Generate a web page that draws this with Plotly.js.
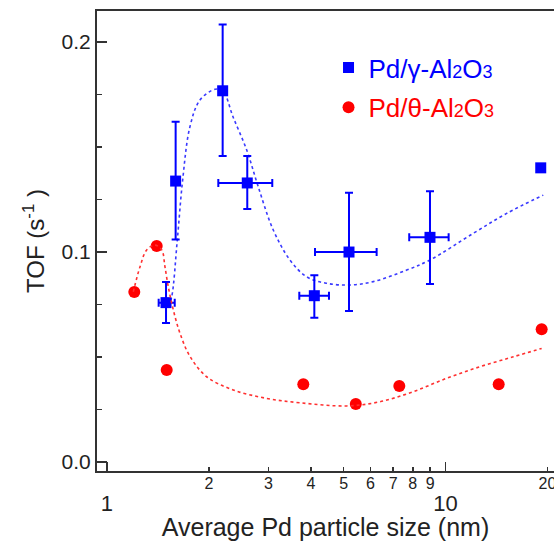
<!DOCTYPE html>
<html>
<head>
<meta charset="utf-8">
<script src="https://cdn.plot.ly/plotly-3.0.1.min.js"></script>
<style>html,body{margin:0;padding:0;background:#fff;}#chart{width:554px;height:541px;}</style>
</head>
<body>
<div id="chart"></div>
<script>
// Pd/gamma-Al2O3 measured points
var gammaX = [1.494, 1.595, 2.196, 2.596, 4.096, 5.185, 8.994, 19.1];
var gammaY = [0.0759, 0.1338, 0.1768, 0.1329, 0.0792, 0.100, 0.107, 0.1401];
var gammaErrYPlus = [0.0098, 0.0282, 0.0316, 0.0128, 0.0098, 0.0282, 0.022, null];
var gammaErrYMinus = [0.0097, 0.0278, 0.0311, 0.0124, 0.0105, 0.0281, 0.0222, null];
var gammaErrXPlus = [0.091, null, null, 0.481, 0.429, 1.072, 1.216, null];
var gammaErrXMinus = [0.073, null, null, 0.464, 0.398, 1.07, 1.184, null];

// Pd/theta-Al2O3 measured points
var thetaX = [1.204, 1.402, 1.501, 3.80, 5.43, 7.30, 14.35, 19.22];
var thetaY = [0.081, 0.1029, 0.0438, 0.037, 0.0276, 0.0362, 0.037, 0.0632];

// dotted guide curves
var gammaFitX = [1.519, 1.553, 1.613, 1.673, 1.758, 1.882, 2.084, 2.2, 2.356, 2.586, 2.793, 3.098, 3.471, 3.889, 4.456, 5.222, 6.116, 7.676, 8.994, 12.07, 15.15, 19.43];
var gammaFitY = [0.074, 0.0787, 0.1057, 0.1343, 0.1597, 0.1724, 0.1775, 0.1767, 0.1644, 0.1486, 0.1314, 0.1105, 0.0962, 0.0882, 0.0851, 0.0843, 0.0859, 0.0914, 0.0962, 0.1089, 0.1184, 0.1271];
var thetaFitX = [1.196, 1.252, 1.310, 1.386, 1.451, 1.483, 1.517, 1.570, 1.643, 1.758, 1.970, 2.360, 2.963, 3.715, 5.106, 6.402, 8.027, 10.08, 12.64, 15.85, 19.22];
var thetaFitY = [0.0811, 0.093, 0.101, 0.1033, 0.101, 0.093, 0.0835, 0.0724, 0.0613, 0.0503, 0.0406, 0.0343, 0.0303, 0.0282, 0.0267, 0.0287, 0.0335, 0.0399, 0.0454, 0.0501, 0.0541];

// axis ticks
var xMinorVals = [2, 3, 4, 5, 6, 7, 8, 9, 20];
var xMinorText = ['2', '3', '4', '5', '6', '7', '8', '9', '20'];
var xMajorVals = [1, 10];
var xMajorText = ['1', '10'];
var yTickVals = [0, 0.1, 0.2];
var yTickText = ['0.0', '0.1', '0.2'];

function nn(a) { return a.map(function (v) { return v === null ? NaN : v; }); }

var BLUE = '#0000ff', RED = '#ff0000';
var FONT = 'Liberation Sans, Arial, sans-serif';
var XRANGE = [-0.0295, 1.3202];

var traces = [
  {
    x: gammaFitX, y: gammaFitY, mode: 'lines', showlegend: false, hoverinfo: 'skip',
    line: { color: '#3a3aff', width: 1.6, dash: 'dot', shape: 'spline' }
  },
  {
    x: thetaFitX, y: thetaFitY, mode: 'lines', showlegend: false, hoverinfo: 'skip', xaxis: 'x2',
    line: { color: '#ff3030', width: 1.6, dash: 'dot', shape: 'spline' }
  },
  {
    x: gammaX, y: gammaY, mode: 'markers', legendgroup: 'g',
    name: '<span style="color:#0000ff">Pd/γ-Al</span><span style="color:#0000ff;font-size:18px">2</span><span style="color:#0000ff">O</span><span style="color:#0000ff;font-size:18px">3</span>',
    marker: { symbol: 'square', size: 11, color: BLUE },
    error_y: { type: 'data', symmetric: false, array: nn(gammaErrYPlus), arrayminus: nn(gammaErrYMinus), color: BLUE, thickness: 2, width: 4 },
    error_x: { type: 'data', symmetric: false, array: nn(gammaErrXPlus), arrayminus: nn(gammaErrXMinus), color: BLUE, thickness: 2, width: 4 }
  },
  {
    x: thetaX, y: thetaY, mode: 'markers', legendgroup: 't',
    name: '<span style="color:#ff0000">Pd/θ-Al</span><span style="color:#ff0000;font-size:18px">2</span><span style="color:#ff0000">O</span><span style="color:#ff0000;font-size:18px">3</span>',
    marker: { symbol: 'circle', size: 12, color: RED }
  }
];

var layout = {
  width: 554, height: 541,
  margin: { l: 97, r: 0, t: 11, b: 70 },
  paper_bgcolor: '#fff', plot_bgcolor: '#fff',
  font: { family: FONT, color: '#222' },
  showlegend: true,
  legend: {
    x: 0.5066, y: 0.928, xanchor: 'left', yanchor: 'top',
    font: { size: 26, family: FONT }, bgcolor: 'rgba(0,0,0,0)',
    traceorder: 'grouped', tracegroupgap: 3
  },
  xaxis: {
    type: 'log', range: XRANGE,
    showgrid: false, zeroline: false,
    showline: true, linecolor: '#333', linewidth: 1.6, mirror: true,
    ticks: 'inside', ticklen: 4, tickwidth: 1.5, tickcolor: '#333',
    tickmode: 'array', tickvals: xMinorVals, ticktext: xMinorText, tickangle: 0,
    ticklabeloverflow: 'allow', ticklabelstandoff: -3,
    tickfont: { size: 16, family: FONT, color: '#222' },
    minor: { tickmode: 'array', tickvals: xMajorVals, ticks: 'inside', ticklen: 9, tickwidth: 1.5, tickcolor: '#333', showgrid: false },
    title: { text: 'Average Pd particle size (nm)', font: { size: 25, family: FONT, color: '#222' }, standoff: 29 }
  },
  xaxis2: {
    type: 'log', range: XRANGE, overlaying: 'x', anchor: 'y', side: 'bottom',
    showgrid: false, zeroline: false, showline: false, ticks: '',
    tickmode: 'array', tickvals: xMajorVals, ticktext: xMajorText, tickangle: 0,
    ticklabeloverflow: 'allow', ticklabelstandoff: 17,
    tickfont: { size: 22, family: FONT, color: '#222' }
  },
  yaxis: {
    range: [-0.00429, 0.2148],
    showgrid: false, zeroline: false,
    showline: true, linecolor: '#333', linewidth: 2, mirror: false,
    ticks: 'inside', ticklen: 10, tickwidth: 1.5, tickcolor: '#333',
    tickmode: 'array', tickvals: yTickVals, ticktext: yTickText,
    tickfont: { size: 21, family: FONT, color: '#222' },
    minor: { tick0: 0, dtick: 0.025, ticks: 'inside', ticklen: 5, tickwidth: 1.5, tickcolor: '#333', showgrid: false },
    title: { text: 'TOF (s<sup>-1</sup> )', font: { size: 24, family: FONT, color: '#222' }, standoff: 10 }
  }
};

Plotly.newPlot('chart', traces, layout, { displayModeBar: false, staticPlot: true });
</script>
</body>
</html>
